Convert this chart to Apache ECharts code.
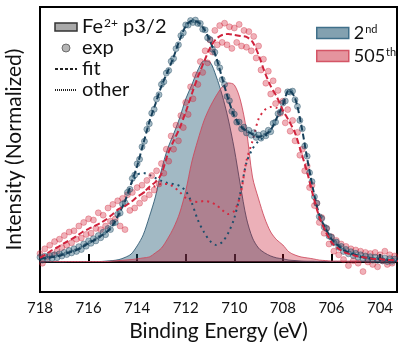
<!DOCTYPE html>
<html>
<head>
<meta charset="utf-8">
<script src="https://cdn.jsdelivr.net/npm/echarts@6/dist/echarts.min.js"></script>
<style>
  html, body { margin: 0; padding: 0; background: #fff; }
  #chart { width: 398px; height: 342px; }
</style>
</head>
<body>
<div id="chart"></div>
<script>
// ---- data ----
var tickLabels = [718, 716, 714, 712, 710, 708, 706, 704];

// energy grid for fitted curves / components (eV)
var fitEnergy = [718, 717.75, 717.5, 717.25, 717, 716.75, 716.5, 716.25, 716, 715.75, 715.5, 715.25, 715, 714.75, 714.5, 714.25,
  714, 713.75, 713.5, 713.25, 713, 712.75, 712.5, 712.25, 712, 711.75, 711.5, 711.25, 711, 710.75, 710.5, 710.25,
  710, 709.75, 709.5, 709.25, 709, 708.75, 708.5, 708.25, 708, 707.75, 707.5, 707.25, 707, 706.75, 706.5, 706.25,
  706, 705.75, 705.5, 705.25, 705, 704.75, 704.5, 704.25, 704, 703.75, 703.5, 703.25];

var fit2nd = [.013, .017, .021, .025, .033, .042, .050, .063, .079, .092, .108, .125, .154, .200, .254, .325,
  .400, .492, .583, .658, .733, .792, .854, .925, .983, 1.004, 1.000, .971, .921, .854, .767, .679,
  .608, .567, .546, .533, .521, .529, .550, .600, .654, .717, .683, .575, .433, .300, .196, .142,
  .096, .071, .050, .038, .029, .021, .017, .013, .013, .008, .008, .004];

var fit505 = [.017, .033, .050, .063, .079, .092, .108, .125, .138, .150, .163, .179, .200, .221, .233, .250,
  .271, .288, .313, .333, .367, .446, .504, .558, .625, .700, .771, .833, .892, .929, .946, .950,
  .946, .942, .938, .917, .863, .792, .733, .688, .633, .588, .538, .458, .375, .275, .188, .129,
  .083, .058, .042, .033, .025, .021, .017, .013, .013, .008, .008, .004];

var fe2Comp2nd = [.001, .001, .001, .001, .001, .002, .002, .002, .002, .002, .002, .004, .006, .010, .019, .033,
  .067, .113, .188, .271, .383, .471, .533, .600, .679, .738, .800, .838, .833, .775, .696, .596,
  .471, .321, .183, .100, .058, .038, .025, .017, .013, .008, .006, .004, .003, .003, .002, .002,
  .002, .002, .002, .002, .002, .002, .002, .002, .002, .002, .002, .002];

var fe2Comp505 = [.002, .002, .002, .002, .002, .002, .002, .002, .002, .002, .002, .002, .004, .006, .008, .010,
  .013, .017, .021, .038, .058, .096, .142, .204, .296, .417, .508, .588, .646, .692, .729, .746,
  .738, .675, .550, .354, .263, .183, .125, .092, .071, .042, .029, .021, .017, .013, .008, .006,
  .004, .004, .004, .004, .004, .004, .004, .004, .004, .004, .004, .004];

// "other" contributions
var other2ndEnergy = [714.25, 714, 713.75, 713.5, 713.25, 713, 712.75, 712.5, 712.25, 712, 711.75, 711.5,
  711.25, 711, 710.75, 710.5, 710.25, 710, 709.75, 709.5, 709.25, 709, 708.75, 708.5];
var other2nd = [.325, .363, .371, .363, .350, .338, .329, .325, .317, .296, .246, .175,
  .125, .088, .071, .083, .121, .183, .288, .413, .471, .504, .521, .546];

var other505Energy = [713.75, 713.5, 713.25, 713, 712.75, 712.5, 712.25, 712, 711.75, 711.5, 711.25, 711,
  710.75, 710.5, 710.25, 710, 709.75, 709.5, 709.25, 709, 708.75, 708.5, 708.25, 708];
var other505 = [.288, .304, .317, .325, .325, .313, .292, .267, .254, .250, .254, .250,
  .238, .217, .200, .213, .279, .421, .504, .596, .633, .646, .642, .629];

// experimental points
var expEnergy = [
  718.0, 717.9, 717.8, 717.7, 717.6, 717.5, 717.4, 717.3, 717.2, 717.1,
  717.0, 716.9, 716.8, 716.7, 716.6, 716.5, 716.4, 716.3, 716.2, 716.1,
  716.0, 715.9, 715.8, 715.7, 715.6, 715.5, 715.4, 715.3, 715.2, 715.1,
  715.0, 714.9, 714.8, 714.7, 714.6, 714.5, 714.4, 714.3, 714.2, 714.1,
  714.0, 713.9, 713.8, 713.7, 713.6, 713.5, 713.4, 713.3, 713.2, 713.1,
  713.0, 712.9, 712.8, 712.7, 712.6, 712.5, 712.4, 712.3, 712.2, 712.1,
  712.0, 711.9, 711.8, 711.7, 711.6, 711.5, 711.4, 711.3, 711.2, 711.1,
  711.0, 710.9, 710.8, 710.7, 710.6, 710.5, 710.4, 710.3, 710.2, 710.1,
  710.0, 709.9, 709.8, 709.7, 709.6, 709.5, 709.4, 709.3, 709.2, 709.1,
  709.0, 708.9, 708.8, 708.7, 708.6, 708.5, 708.4, 708.3, 708.2, 708.1,
  708.0, 707.9, 707.8, 707.7, 707.6, 707.5, 707.4, 707.3, 707.2, 707.1,
  707.0, 706.9, 706.8, 706.7, 706.6, 706.5, 706.4, 706.3, 706.2, 706.1,
  706.0, 705.9, 705.8, 705.7, 705.6, 705.5, 705.4, 705.3, 705.2, 705.1,
  705.0, 704.9, 704.8, 704.7, 704.6, 704.5, 704.4, 704.3, 704.2, 704.1,
  704.0, 703.9, 703.8, 703.7, 703.6, 703.5, 703.4];

var exp2nd = [
  .020, .008, .024, .012, .027, .015, .030, .018, .034, .025,
  .040, .031, .048, .038, .055, .044, .064, .052, .075, .066,
  .088, .078, .097, .088, .110, .101, .124, .114, .140, .135,
  .162, .165, .199, .204, .241, .247, .290, .303, .348, .362,
  .409, .428, .480, .503, .553, .576, .620, .636, .679, .697,
  .740, .751, .787, .798, .836, .848, .889, .905, .943, .955,
  .988, .987, 1.006, .998, 1.008, .994, .994, .970, .967, .934,
  .927, .887, .874, .829, .809, .760, .740, .690, .672, .628,
  .616, .583, .583, .555, .562, .538, .549, .528, .539, .519,
  .529, .516, .535, .526, .549, .543, .578, .583, .618, .625,
  .662, .671, .709, .708, .712, .676, .648, .590, .555, .483,
  .441, .372, .335, .272, .245, .189, .181, .146, .140, .108,
  .103, .080, .083, .061, .065, .044, .052, .034, .043, .027,
  .036, .020, .030, .014, .025, .011, .022, .008, .020, .007,
  .019, .005, .016, .002, .014, .003, .012];

var exp505 = [
  .035, -.005, .055, .020, .070, .030, .085, .045, .095, .060,
  .110, .070, .125, .080, .130, .095, .150, .100, .165, .115,
  .180, .120, .175, .140, .205, .135, .195, .150, .225, .170,
  .240, .180, .255, .150, .265, .135, .280, .215, .290, .225,
  .310, .245, .320, .265, .340, .280, .360, .300, .380, .325,
  .410, .370, .470, .420, .525, .470, .570, .505, .610, .560,
  .665, .615, .730, .680, .780, .740, .835, .790, .880, .830,
  .925, .875, .965, .905, .985, .915, .995, .905, .980, .890,
  .975, .915, .990, .900, .965, .895, .960, .880, .940, .850,
  .900, .800, .845, .745, .795, .700, .755, .660, .715, .620,
  .670, .580, .635, .545, .590, .505, .540, .445, .470, .380,
  .400, .310, .320, .235, .245, .165, .185, .120, .140, .075,
  .105, .045, .090, .030, .075, .010, .065, -.015, .055, .005,
  .050, -.005, .045, -.040, .040, .000, .035, -.010, .040, -.020,
  .030, .005, .045, -.010, .030, -.005, .025];

// ---- build ----
function pairs(xs, ys) { return xs.map(function (x, i) { return [x, ys[i]]; }); }

var FONT = 'Lato';
var chart = echarts.init(document.getElementById('chart'), null, { renderer: 'canvas' });

function supRich(size) {
  return { sup: { fontSize: size, lineHeight: size, verticalAlign: 'top', fontFamily: FONT, color: '#111', padding: [0, 0, 0, 1] } };
}

var option = {
  animation: false,
  backgroundColor: '#fff',
  grid: { left: 40, right: 1, top: 7, bottom: 50, show: true, borderColor: '#000', borderWidth: 2, backgroundColor: 'transparent', containLabel: false, outerBoundsMode: 'none' },
  legend: [
    {
      orient: 'vertical', left: 49, top: 12, itemGap: 1, itemWidth: 22, itemHeight: 8,
      selectedMode: false,
      textStyle: { fontSize: 20, lineHeight: 20, color: '#111', fontFamily: FONT, rich: supRich(12) },
      formatter: function (n) { return n === 'Fe2+ p3/2' ? 'Fe{sup|2+} p3/2' : n; },
      data: [
        { name: 'Fe2+ p3/2', icon: 'rect', itemStyle: { color: '#a9a9a9', borderColor: '#333', borderWidth: 1.5 } },
        { name: 'exp', icon: 'circle', itemStyle: { color: '#a2a2a2', borderColor: '#555', borderWidth: 1 } },
        { name: 'fit', itemStyle: { opacity: 0 } },
        { name: 'other', itemStyle: { opacity: 0 } }
      ]
    },
    {
      orient: 'vertical', left: 311, top: 19, itemGap: 5, itemWidth: 32, itemHeight: 11,
      selectedMode: false,
      textStyle: { fontSize: 18, lineHeight: 18, color: '#111', fontFamily: FONT, rich: supRich(11) },
      formatter: function (n) { return n === '2nd' ? '2{sup|nd}' : '505{sup|th}'; },
      data: [
        { name: '2nd', icon: 'rect', itemStyle: { color: 'rgba(29,84,112,0.55)', borderColor: '#40708a', borderWidth: 1.5 } },
        { name: '505th', icon: 'rect', itemStyle: { color: 'rgba(197,18,41,0.45)', borderColor: '#d45566', borderWidth: 1.5 } }
      ]
    }
  ],
  xAxis: {
    type: 'value', inverse: true, min: 703.3, max: 718,
    axisLine: { show: true, lineStyle: { color: '#000', width: 2 } },
    axisTick: { show: true, inside: true, length: 8, lineStyle: { color: '#000', width: 2 }, customValues: tickLabels },
    axisLabel: { customValues: tickLabels, fontSize: 15, color: '#111', fontFamily: FONT, margin: 9 },
    splitLine: { show: false },
    name: 'Binding Energy (eV)', nameLocation: 'middle', nameGap: 24,
    nameTextStyle: { fontSize: 21, color: '#111', fontFamily: FONT }
  },
  yAxis: {
    type: 'value', min: -0.125, max: 1.0625,
    axisLine: { show: true, lineStyle: { color: '#000', width: 2 } },
    axisTick: { show: false }, axisLabel: { show: false }, splitLine: { show: false },
    name: 'Intensity (Normalized)', nameLocation: 'middle', nameGap: 15,
    nameTextStyle: { fontSize: 21, color: '#111', fontFamily: FONT }
  },
  series: [
    { name: '2nd', type: 'line', data: pairs(fitEnergy, fe2Comp2nd), smooth: 0.3, symbol: 'none', z: 1,
      lineStyle: { color: 'rgba(40,85,110,0.85)', width: 1 }, itemStyle: { color: 'rgba(29,84,112,0.59)' },
      areaStyle: { color: 'rgba(29,84,112,0.59)' } },
    { name: '505th', type: 'line', data: pairs(fitEnergy, fe2Comp505), smooth: 0.3, symbol: 'none', z: 2,
      lineStyle: { color: 'rgba(205,70,90,0.85)', width: 1 }, itemStyle: { color: 'rgba(197,18,41,0.48)' },
      areaStyle: { color: 'rgba(197,18,41,0.48)' } },
    { name: 'other 2nd', type: 'line', data: pairs(other2ndEnergy, other2nd), smooth: 0.3, symbol: 'none', z: 3,
      lineStyle: { color: '#1d4e6b', width: 2, type: [2, 4] } },
    { name: 'other 505th', type: 'line', data: pairs(other505Energy, other505), smooth: 0.3, symbol: 'none', z: 3,
      lineStyle: { color: '#d42a40', width: 2, type: [2, 4] } },
    { name: 'exp 505th', type: 'scatter', data: pairs(expEnergy, exp505), symbolSize: 6, z: 4,
      itemStyle: { color: 'rgba(214,40,62,0.45)', borderColor: 'rgba(205,35,55,0.5)', borderWidth: 0.8 } },
    { name: 'exp 2nd', type: 'scatter', data: pairs(expEnergy, exp2nd), symbolSize: 6, z: 5,
      itemStyle: { color: 'rgba(29,84,112,0.5)', borderColor: 'rgba(20,60,85,0.6)', borderWidth: 0.8 } },
    { name: 'fit 2nd', type: 'line', data: pairs(fitEnergy, fit2nd), smooth: 0.3, symbol: 'none', z: 6,
      lineStyle: { color: '#163f5a', width: 2, type: [6, 3] } },
    { name: 'fit 505th', type: 'line', data: pairs(fitEnergy, fit505), smooth: 0.3, symbol: 'none', z: 6,
      lineStyle: { color: '#d0233d', width: 2, type: [6, 3] } },
    // legend-only entries
    { name: 'Fe2+ p3/2', type: 'line', data: [], symbol: 'none', itemStyle: { color: '#a9a9a9' } },
    { name: 'exp', type: 'scatter', data: [], itemStyle: { color: '#a2a2a2' } },
    { name: 'fit', type: 'line', data: [], symbol: 'none', itemStyle: { color: '#222' }, lineStyle: { color: '#222', width: 1.5, type: [3, 2] } },
    { name: 'other', type: 'line', data: [], symbol: 'none', itemStyle: { color: '#222' }, lineStyle: { color: '#222', width: 1.5, type: [1, 1] } }
  ]
};
chart.setOption(option);
</script>
</body>
</html>
